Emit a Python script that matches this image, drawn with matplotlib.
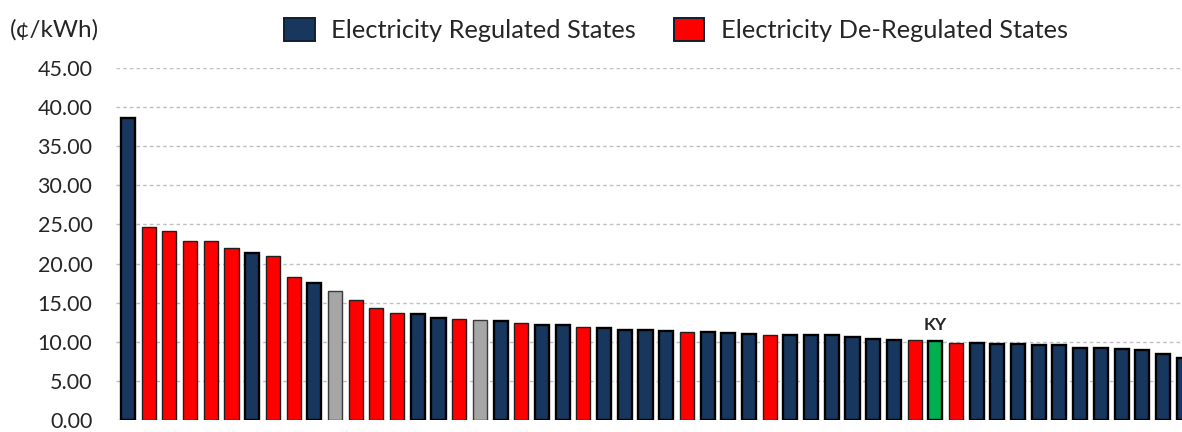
import matplotlib
matplotlib.use("Agg")
import matplotlib.pyplot as plt
from matplotlib.patches import Patch

plt.rcParams["font.family"] = ["Lato", "DejaVu Sans"]

# Average residential electricity price by state, sorted high to low (cents/kWh)
values = [38.6, 24.7, 24.2, 22.9, 22.9, 22.0, 21.3, 21.0, 18.3, 17.5,
          16.5, 15.4, 14.3, 13.7, 13.5, 13.0, 12.9, 12.8, 12.7, 12.4,
          12.2, 12.1, 11.85, 11.8, 11.5, 11.5, 11.35, 11.2, 11.2, 11.15,
          11.05, 10.9, 10.9, 10.9, 10.9, 10.65, 10.4, 10.2, 10.2, 10.05,
          9.9, 9.8, 9.7, 9.7, 9.55, 9.55, 9.25, 9.25, 9.05, 8.9,
          8.45, 7.95]

# Market type per bar: R = regulated, D = de-regulated, O = other, K = Kentucky
groups = list("RDDDDDRDDRODDDRRDOR" "DRRDRRRRDRRRDRRRRRRDKD" "RRRRRRRRRRR")

highlight_label = "KY"
yticks = [0, 5, 10, 15, 20, 25, 30, 35, 40, 45]
unit_label = "(¢/kWh)"
legend_labels = ["Electricity Regulated States", "Electricity De-Regulated States"]

face = {"R": "#17375E", "D": "#FF0000", "O": "#A6A6A6", "K": "#00B050"}
edge = {"R": "#000000", "D": "#202020", "O": "#3A3A3A", "K": "#000000"}
lw = {"R": 1.7, "D": 1.0, "O": 1.0, "K": 1.7}

fig = plt.figure(figsize=(11.82, 4.32), dpi=100)
ax = fig.add_axes([116 / 1182, 12 / 432, 1 - 116 / 1182, 352 / 432])

x = list(range(len(values)))
ax.bar(x, values, width=0.68,
       color=[face[g] for g in groups],
       edgecolor=[edge[g] for g in groups],
       linewidth=[lw[g] for g in groups], zorder=3)

ax.set_ylim(0, 45)
ax.set_xlim(-0.58, len(values) - 1.08)
ax.set_yticks(yticks)
ax.set_yticklabels([f"{v:.2f}" for v in yticks], fontsize=15.5, color="#262626")
ax.tick_params(axis="y", length=0, pad=17)
ax.set_xticks([])
ax.yaxis.grid(True, color="#BFBFBF", linewidth=1.0, linestyle=(0, (2.6, 2.2)), zorder=0)
for s in ax.spines.values():
    s.set_visible(False)

k = groups.index("K")
ax.text(k, values[k] + 1.1, highlight_label, ha="center", va="bottom",
        fontsize=12.5, fontweight="bold", color="#262626")

fig.text(10 / 1182, 1 - 30 / 432, unit_label, ha="left", va="center",
         fontsize=17.5, color="#262626")

handles = [Patch(facecolor=face["R"], edgecolor="#0F1F33", linewidth=1.4),
           Patch(facecolor=face["D"], edgecolor="#0F1F33", linewidth=1.4)]
fig.legend(handles, legend_labels, loc="center left",
           bbox_to_anchor=(284 / 1182, 1 - 30 / 432),
           ncol=2, frameon=False, fontsize=18.3, borderpad=0, borderaxespad=0,
           handlelength=1.2, handleheight=1.05, handletextpad=0.65,
           columnspacing=1.5, labelcolor="#262626")

fig.savefig("out.png", dpi=100)
